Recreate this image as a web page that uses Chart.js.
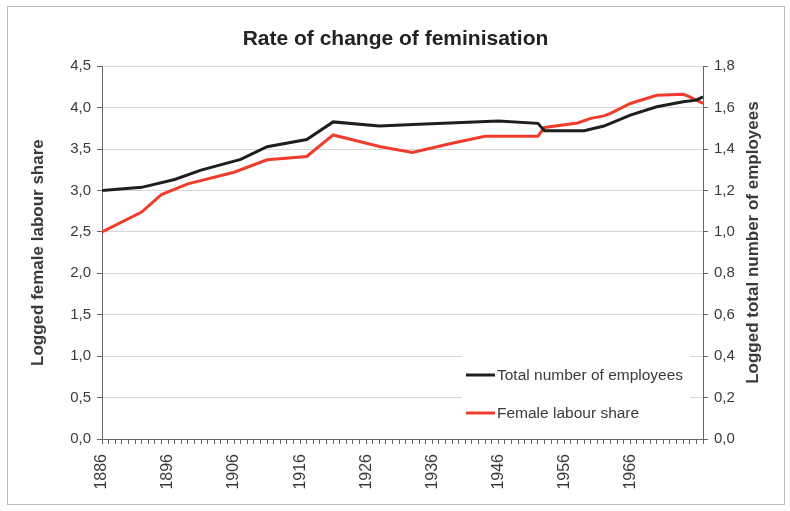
<!DOCTYPE html>
<html>
<head>
<meta charset="utf-8">
<script src="https://cdn.jsdelivr.net/npm/chart.js@4.4.1/dist/chart.umd.min.js"></script>
<style>
  html, body { margin: 0; padding: 0; background: #fff; }
  #wrap { width: 790px; height: 511px; }
</style>
</head>
<body>
<div id="wrap"><canvas id="myChart"></canvas></div>
<script>
// values
const employeeYears = [1886, 1892, 1897, 1901, 1907, 1911, 1917, 1921, 1928, 1934, 1946, 1952, 1953, 1959, 1962, 1966, 1970, 1974, 1976, 1977];
const employeeValues = [1.20, 1.215, 1.253, 1.298, 1.35, 1.411, 1.446, 1.531, 1.511, 1.52, 1.535, 1.524, 1.488, 1.488, 1.511, 1.564, 1.604, 1.628, 1.636, 1.652];

const shareYears = [1886, 1892, 1895, 1899, 1906, 1911, 1917, 1921, 1928, 1933, 1939, 1944, 1952, 1953, 1958, 1960, 1962, 1963, 1966, 1970, 1974, 1975, 1977];
const shareValues = [2.50, 2.74, 2.95, 3.08, 3.22, 3.37, 3.41, 3.67, 3.53, 3.46, 3.57, 3.655, 3.655, 3.76, 3.815, 3.87, 3.90, 3.93, 4.05, 4.15, 4.16, 4.13, 4.05];

const xTickLabels = ['1886', '1896', '1906', '1916', '1926', '1936', '1946', '1956', '1966'];

const rightTitle = 'Logged total number of employees';

const fontFamily = '"Liberation Sans", Arial, sans-serif';
const textColor = '#3a3a3a';
const axisColor = '#666';

function toPoints(xs, ys) {
  return xs.map((x, i) => ({ x: x, y: ys[i] }));
}

function comma(v) {
  return v.toFixed(1).replace('.', ',');
}

// grey frame round the whole chart + right axis title (reads bottom to top)
const framePlugin = {
  id: 'frame',
  afterDraw(chart) {
    const ctx = chart.ctx;
    const area = chart.chartArea;
    ctx.save();
    ctx.strokeStyle = '#bdbdbd';
    ctx.lineWidth = 1;
    ctx.strokeRect(7.5, 6.5, 777, 498);

    ctx.translate(753, (area.top + area.bottom) / 2 - 10);
    ctx.rotate(-Math.PI / 2);
    ctx.font = 'bold 17px ' + fontFamily;
    ctx.fillStyle = textColor;
    ctx.textAlign = 'center';
    ctx.textBaseline = 'middle';
    ctx.fillText(rightTitle, 0, 0);
    ctx.restore();
  }
};

// legend sits inside the plot, bottom right
const boxLegend = {
  id: 'boxLegend',
  afterDatasetsDraw(chart) {
    const ctx = chart.ctx;
    const rows = [375, 413];
    ctx.save();
    ctx.fillStyle = '#fff';
    ctx.fillRect(462, 350, 228, 82);
    ctx.font = '15.5px ' + fontFamily;
    ctx.textBaseline = 'middle';
    chart.data.datasets.forEach((ds, i) => {
      ctx.strokeStyle = ds.borderColor;
      ctx.lineWidth = 3;
      ctx.beginPath();
      ctx.moveTo(466, rows[i]);
      ctx.lineTo(495, rows[i]);
      ctx.stroke();
      ctx.fillStyle = textColor;
      ctx.fillText(ds.label, 497, rows[i] + 1);
    });
    ctx.restore();
  }
};

const ctx1 = document.getElementById('myChart');

new Chart(ctx1, {
  type: 'line',
  data: {
    datasets: [
      {
        label: 'Total number of employees',
        data: toPoints(employeeYears, employeeValues),
        yAxisID: 'yRight',
        borderColor: '#1e1e1e',
        borderWidth: 3,
        pointRadius: 0,
        tension: 0
      },
      {
        label: 'Female labour share',
        data: toPoints(shareYears, shareValues),
        yAxisID: 'yLeft',
        borderColor: '#f03c2c',
        borderWidth: 3,
        pointRadius: 0,
        tension: 0
      }
    ]
  },
  options: {
    responsive: true,
    maintainAspectRatio: false,
    animation: false,
    layout: { padding: { top: 6, left: 24, right: 23, bottom: 6 } },
    plugins: {
      legend: { display: false },
      tooltip: { enabled: false },
      title: {
        display: true,
        text: 'Rate of change of feminisation',
        color: '#222',
        font: { family: fontFamily, size: 21, weight: 'bold' },
        padding: { top: 21, bottom: 14 }
      }
    },
    scales: {
      x: {
        type: 'linear',
        min: 1886,
        max: 1977,
        afterFit: (s) => { s.height = 511 - 439 - 6; },
        grid: { drawOnChartArea: false, drawTicks: true, tickLength: 5, tickColor: axisColor },
        border: { color: axisColor },
        ticks: {
          stepSize: 1,
          autoSkip: false,
          minRotation: 90,
          maxRotation: 90,
          color: textColor,
          padding: 10,
          font: { family: fontFamily, size: 16 },
          callback: (v) => xTickLabels.includes(String(v)) ? String(v) : ''
        }
      },
      yLeft: {
        position: 'left',
        min: 0,
        max: 4.5,
        afterFit: (s) => { s.width = 102 - 24; },
        grid: { color: '#d6d6d6', tickColor: axisColor, tickLength: 5 },
        border: { color: axisColor },
        ticks: {
          stepSize: 0.5,
          color: textColor,
          padding: 6,
          font: { family: fontFamily, size: 15 },
          callback: (v) => comma(v)
        },
        title: {
          display: true,
          text: 'Logged female labour share',
          color: textColor,
          font: { family: fontFamily, size: 17, weight: 'bold' }
        }
      },
      yRight: {
        position: 'right',
        min: 0,
        max: 1.8,
        afterFit: (s) => { s.width = 790 - 23 - 703; },
        grid: { drawOnChartArea: false, tickColor: axisColor, tickLength: 5 },
        border: { color: axisColor },
        ticks: {
          stepSize: 0.2,
          color: textColor,
          padding: 6,
          font: { family: fontFamily, size: 15 },
          callback: (v) => comma(v)
        }
      }
    }
  },
  plugins: [boxLegend, framePlugin]
});
</script>
</body>
</html>
